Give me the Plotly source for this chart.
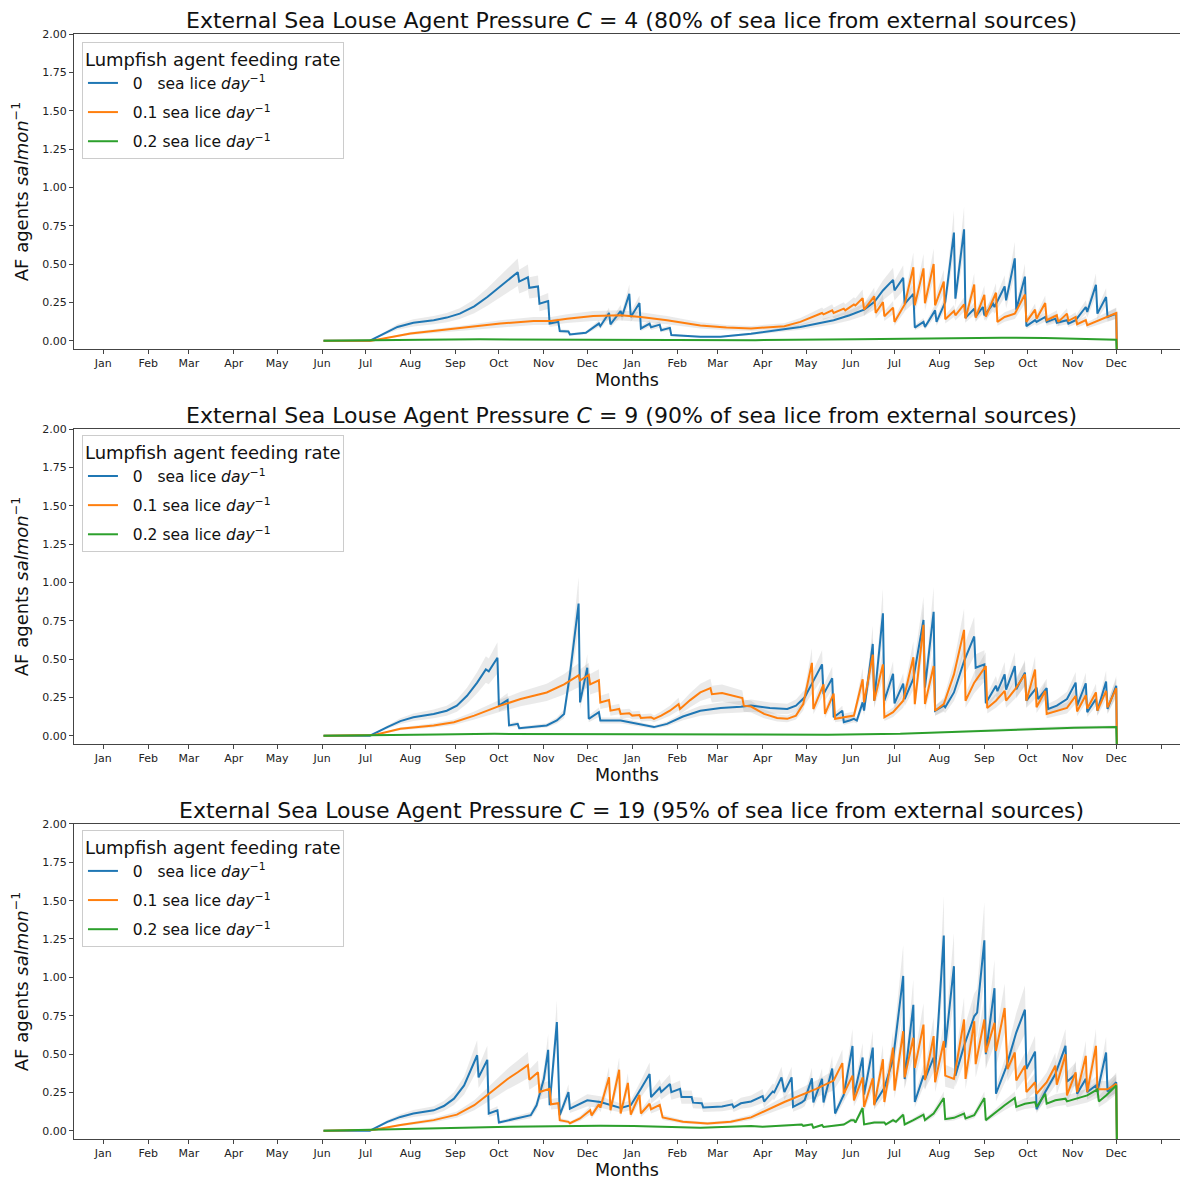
import plotly.graph_objects as go
from plotly.subplots import make_subplots

# Days are counted from 1 Jan of the first year (day 0); values in AF agents per salmon.

# ---- C = 4 ----
c4_rate0_day = [152, 184, 203, 214, 228, 237, 246, 256, 265, 274, 286, 287, 293, 294, 300, 301, 307, 308, 314, 315,
                321, 322, 333, 342, 343, 349, 350, 357, 358, 363, 364, 370, 371, 377, 378, 384, 385, 391, 392, 412,
                426, 447, 481, 504, 515, 525, 532, 538, 545, 546, 552, 553, 559, 560, 566, 567, 574, 575, 581, 587,
                588, 594, 595, 601, 602, 607, 608, 614, 615, 622, 623, 629, 630, 636, 637, 643, 644, 650, 651, 657,
                658, 665, 666, 671, 678, 679, 685, 686, 692, 693, 699, 699.5]
c4_rate0_val = [0, 0, 0.09, 0.117, 0.134, 0.151, 0.177, 0.224, 0.285, 0.354, 0.447, 0.386, 0.414, 0.345, 0.354, 0.241, 0.259, 0.112, 0.123, 0.063,
                0.06, 0.041, 0.052, 0.112, 0.095, 0.181, 0.107, 0.194, 0.16, 0.306, 0.155, 0.246, 0.08, 0.112, 0.088, 0.105, 0.069, 0.084, 0.037, 0.026,
                0.026, 0.045, 0.09, 0.134, 0.166, 0.203, 0.252, 0.328, 0.397, 0.328, 0.41, 0.241, 0.306, 0.086, 0.123, 0.09, 0.198, 0.123, 0.252, 0.705,
                0.274, 0.727, 0.149, 0.209, 0.157, 0.22, 0.166, 0.241, 0.22, 0.354, 0.263, 0.537, 0.203, 0.418, 0.095, 0.134, 0.123, 0.155, 0.123, 0.144,
                0.117, 0.134, 0.112, 0.134, 0.22, 0.188, 0.365, 0.177, 0.285, 0.155, 0.177, -0.1]

c4_rate1_day = [152, 185, 212, 246, 274, 297, 309, 320, 338, 357, 371, 389, 412, 430, 447, 470, 481, 496, 497, 503,
                504, 511, 512, 518, 519, 524, 525, 532, 533, 538, 539, 545, 546, 553, 559, 560, 566, 567, 573, 574,
                580, 581, 587, 588, 594, 595, 601, 602, 608, 609, 616, 617, 622, 629, 636, 637, 643, 644, 650, 651,
                658, 659, 665, 666, 671, 672, 678, 679, 686, 692, 699, 699.5]
c4_rate1_val = [0, 0, 0.047, 0.08, 0.112, 0.129, 0.129, 0.144, 0.162, 0.166, 0.155, 0.134, 0.10, 0.086, 0.08, 0.095, 0.123, 0.181, 0.172, 0.198,
                0.181, 0.209, 0.198, 0.237, 0.23, 0.278, 0.203, 0.289, 0.181, 0.252, 0.16, 0.216, 0.123, 0.237, 0.479, 0.231, 0.472, 0.244, 0.50, 0.231,
                0.386, 0.14, 0.194, 0.166, 0.237, 0.145, 0.367, 0.151, 0.30, 0.157, 0.313, 0.123, 0.155, 0.177, 0.302, 0.123, 0.203, 0.144, 0.246, 0.134,
                0.166, 0.123, 0.177, 0.13, 0.155, 0.108, 0.134, 0.101, 0.129, 0.155, 0.181, -0.1]

c4_rate2_day = [152, 185, 220, 260, 300, 340, 400, 450, 520, 580, 620, 650, 699, 699.5]
c4_rate2_val = [0, 0.001, 0.006, 0.009, 0.008, 0.004, 0.003, 0.004, 0.009, 0.018, 0.02, 0.018, 0.006, -0.1]

# ---- C = 9 ----
c9_rate0_day = [152, 184, 196, 205, 214, 228, 237, 244, 251, 258, 264, 266, 272, 273, 279, 280, 286, 287, 306, 313,
                318, 322, 328, 329, 334, 335, 342, 343, 357, 366, 380, 389, 400, 412, 426, 440, 447, 460, 472, 478,
                484, 496, 497, 503, 504, 510, 511, 515, 518, 520, 524, 525, 531, 532, 538, 539, 545, 546, 552, 553,
                559, 566, 567, 573, 574, 580, 581, 587, 594, 601, 602, 608, 609, 616, 617, 622, 623, 629, 630, 636,
                637, 644, 645, 651, 652, 658, 665, 671, 672, 678, 679, 685, 686, 692, 693, 699, 699.5]
c9_rate0_val = [0, 0, 0.056, 0.095, 0.12, 0.142, 0.163, 0.196, 0.26, 0.346, 0.432, 0.42, 0.508, 0.196, 0.232, 0.067, 0.077, 0.049, 0.067, 0.099,
                0.142, 0.40, 0.862, 0.217, 0.443, 0.11, 0.153, 0.099, 0.099, 0.082, 0.056, 0.077, 0.125, 0.163, 0.181, 0.189, 0.196, 0.181, 0.174, 0.196,
                0.25, 0.465, 0.271, 0.374, 0.12, 0.163, 0.088, 0.099, 0.11, 0.099, 0.217, 0.163, 0.598, 0.228, 0.798, 0.228, 0.404, 0.211, 0.34, 0.239,
                0.372, 0.755, 0.314, 0.808, 0.163, 0.196, 0.185, 0.282, 0.486, 0.647, 0.443, 0.465, 0.211, 0.325, 0.29, 0.40, 0.30, 0.454, 0.303, 0.411,
                0.228, 0.313, 0.239, 0.31, 0.174, 0.196, 0.239, 0.346, 0.196, 0.342, 0.153, 0.239, 0.163, 0.353, 0.174, 0.325, -0.1]

c9_rate1_day = [152, 187, 205, 228, 242, 256, 274, 288, 306, 318, 328, 329, 335, 336, 342, 343, 349, 350, 356, 357,
                363, 365, 370, 371, 378, 380, 385, 391, 397, 398, 405, 412, 419, 420, 427, 435, 441, 442, 447, 456,
                465, 472, 478, 483, 489, 490, 497, 498, 504, 505, 511, 518, 524, 525, 531, 532, 538, 539, 545, 552,
                559, 560, 566, 567, 573, 574, 580, 587, 594, 595, 601, 609, 610, 616, 622, 623, 629, 636, 637, 643,
                644, 650, 651, 658, 665, 671, 672, 678, 679, 685, 686, 692, 693, 699, 699.5]
c9_rate1_val = [0, 0.004, 0.045, 0.067, 0.088, 0.131, 0.196, 0.239, 0.282, 0.335, 0.394, 0.36, 0.396, 0.335, 0.361, 0.217, 0.232, 0.163, 0.174, 0.142,
                0.146, 0.131, 0.135, 0.116, 0.12, 0.11, 0.131, 0.163, 0.206, 0.174, 0.232, 0.282, 0.31, 0.271, 0.278, 0.26, 0.245, 0.196, 0.19, 0.142,
                0.116, 0.11, 0.131, 0.206, 0.475, 0.174, 0.335, 0.142, 0.275, 0.11, 0.12, 0.131, 0.368, 0.217, 0.529, 0.228, 0.465, 0.12, 0.153, 0.228,
                0.512, 0.206, 0.723, 0.206, 0.454, 0.163, 0.206, 0.40, 0.69, 0.228, 0.346, 0.454, 0.181, 0.228, 0.292, 0.228, 0.30, 0.40, 0.228, 0.432,
                0.185, 0.292, 0.142, 0.163, 0.181, 0.26, 0.158, 0.264, 0.177, 0.282, 0.163, 0.292, 0.185, 0.31, -0.1]

c9_rate2_day = [152, 190, 230, 270, 310, 350, 400, 450, 500, 550, 600, 640, 670, 699, 699.5]
c9_rate2_val = [0, 0.002, 0.008, 0.012, 0.011, 0.008, 0.004, 0.004, 0.006, 0.012, 0.03, 0.046, 0.052, 0.056, -0.1]

# ---- C = 19 ----
c19_rate0_day = [152, 184, 196, 205, 214, 228, 235, 242, 249, 253, 258, 259, 265, 266, 272, 273, 286, 295, 299, 304,
                 307, 308, 313, 315, 321, 322, 334, 343, 357, 364, 371, 377, 378, 384, 385, 391, 392, 398, 399, 406,
                 407, 413, 414, 427, 434, 435, 440, 447, 455, 456, 462, 463, 468, 470, 475, 476, 482, 484, 489, 490,
                 496, 497, 503, 505, 511, 517, 518, 524, 525, 531, 532, 539, 545, 552, 553, 559, 560, 566, 567, 573,
                 574, 580, 581, 587, 588, 594, 601, 603, 608, 609, 615, 616, 623, 629, 630, 636, 637, 643, 644, 650,
                 657, 664, 665, 671, 672, 678, 679, 685, 686, 692, 693, 699, 699.5]
c19_rate0_val = [0, 0, 0.058, 0.09, 0.112, 0.133, 0.161, 0.209, 0.295, 0.381, 0.492, 0.348, 0.462, 0.112, 0.133, 0.054, 0.08, 0.101, 0.166, 0.337,
                 0.527, 0.166, 0.708, 0.101, 0.252, 0.144, 0.198, 0.187, 0.148, 0.166, 0.273, 0.37, 0.219, 0.28, 0.252, 0.305, 0.252, 0.273, 0.219, 0.219,
                 0.183, 0.179, 0.152, 0.158, 0.172, 0.152, 0.179, 0.191, 0.226, 0.19, 0.256, 0.25, 0.348, 0.252, 0.348, 0.155, 0.184, 0.2, 0.342, 0.184,
                 0.339, 0.184, 0.406, 0.112, 0.235, 0.553, 0.23, 0.477, 0.235, 0.542, 0.174, 0.28, 0.466, 1.009, 0.337, 0.821, 0.187, 0.359, 0.337, 0.477,
                 0.38, 1.273, 0.542, 1.073, 0.359, 0.553, 0.746, 0.77, 1.241, 0.499, 0.929, 0.241, 0.413, 0.617, 0.64, 0.789, 0.402, 0.516, 0.14, 0.252,
                 0.37, 0.553, 0.32, 0.37, 0.241, 0.338, 0.252, 0.295, 0.252, 0.51, 0.256, 0.316, -0.1]

c19_rate1_day = [152, 187, 205, 228, 244, 256, 269, 279, 286, 293, 294, 300, 301, 308, 309, 314, 315, 321, 322, 329,
                 336, 337, 342, 343, 349, 350, 356, 357, 362, 364, 370, 371, 377, 378, 384, 386, 400, 417, 433, 447,
                 470, 492, 504, 510, 511, 517, 518, 524, 525, 531, 532, 538, 539, 545, 546, 552, 553, 559, 560, 566,
                 567, 573, 574, 580, 581, 587, 594, 595, 601, 602, 608, 609, 615, 616, 622, 624, 629, 630, 636, 637,
                 643, 644, 651, 657, 658, 664, 665, 671, 672, 678, 679, 685, 686, 693, 699, 699.5]
c19_rate1_val = [0, 0.006, 0.037, 0.069, 0.105, 0.166, 0.262, 0.337, 0.381, 0.428, 0.333, 0.381, 0.252, 0.273, 0.172, 0.179, 0.069, 0.058, 0.049, 0.08,
                 0.133, 0.10, 0.172, 0.15, 0.348, 0.133, 0.398, 0.112, 0.312, 0.105, 0.234, 0.112, 0.176, 0.14, 0.168, 0.087, 0.058, 0.047, 0.058, 0.087,
                 0.187, 0.273, 0.327, 0.441, 0.241, 0.359, 0.198, 0.348, 0.155, 0.342, 0.166, 0.466, 0.187, 0.542, 0.262, 0.649, 0.348, 0.606, 0.41, 0.692,
                 0.33, 0.617, 0.316, 0.585, 0.359, 0.338, 0.725, 0.338, 0.714, 0.434, 0.725, 0.51, 0.703, 0.52, 0.80, 0.402, 0.51, 0.327, 0.424, 0.252,
                 0.316, 0.241, 0.316, 0.424, 0.30, 0.499, 0.23, 0.38, 0.252, 0.488, 0.252, 0.553, 0.27, 0.27, 0.305, -0.1]

c19_rate2_day = [152, 228, 280, 343, 366, 412, 447, 455, 482, 483, 489, 490, 496, 497, 511, 516, 518, 519, 524, 525,
                 532, 539, 540, 545, 547, 552, 553, 559, 566, 567, 573, 580, 581, 587, 594, 595, 601, 608, 609, 622,
                 629, 630, 636, 643, 644, 650, 651, 657, 664, 665, 671, 679, 686, 687, 692, 699, 699.5]
c19_rate2_val = [0, 0.015, 0.026, 0.032, 0.03, 0.019, 0.03, 0.026, 0.04, 0.032, 0.042, 0.019, 0.037, 0.024, 0.04, 0.069, 0.069, 0.054, 0.148, 0.041,
                 0.054, 0.054, 0.041, 0.069, 0.058, 0.105, 0.041, 0.069, 0.105, 0.069, 0.112, 0.213, 0.075, 0.084, 0.112, 0.08, 0.101, 0.213, 0.069, 0.166,
                 0.213, 0.155, 0.176, 0.187, 0.155, 0.241, 0.176, 0.198, 0.209, 0.191, 0.209, 0.23, 0.269, 0.191, 0.23, 0.295, -0.1]

# panel titles: pressure C and share of lice from external sources
pressures = [4, 9, 19]
external_pct = [80, 90, 95]

rate_names = [
    "&nbsp;&nbsp;0&nbsp;&nbsp; sea lice <i>day</i><sup>\u22121</sup>",
    "&nbsp;&nbsp;0.1 sea lice <i>day</i><sup>\u22121</sup>",
    "&nbsp;&nbsp;0.2 sea lice <i>day</i><sup>\u22121</sup>",
]

month_labels = ["Jan", "Feb", "Mar", "Apr", "May", "Jun", "Jul", "Aug", "Sep", "Oct", "Nov", "Dec"] * 2 + [""]
month_lengths = [31, 28, 31, 30, 31, 30, 31, 31, 30, 31, 30, 31] * 2

panels = [
    [(c4_rate0_day, c4_rate0_val), (c4_rate1_day, c4_rate1_val), (c4_rate2_day, c4_rate2_val)],
    [(c9_rate0_day, c9_rate0_val), (c9_rate1_day, c9_rate1_val), (c9_rate2_day, c9_rate2_val)],
    [(c19_rate0_day, c19_rate0_val), (c19_rate1_day, c19_rate1_val), (c19_rate2_day, c19_rate2_val)],
]

COLORS = ["#1f77b4", "#ff7f0e", "#2ca02c"]
BAND_REL = 0.2  # relative half-width of the grey spread band
FONT = "DejaVu Sans"

# month-start tick positions
month_ticks = [0]
for n in month_lengths:
    month_ticks.append(month_ticks[-1] + n)

fig = make_subplots(rows=3, cols=1)

for row, series in enumerate(panels, start=1):
    legend_id = "legend" if row == 1 else f"legend{row}"

    # grey bands first
    for days, vals in series:
        assert len(days) == len(vals)
        upper = [v + BAND_REL * abs(v) for v in vals]
        lower = [v - BAND_REL * abs(v) for v in vals]
        fig.add_trace(go.Scatter(x=days, y=upper, mode="lines", line=dict(width=0),
                                 showlegend=False, hoverinfo="skip"), row=row, col=1)
        fig.add_trace(go.Scatter(x=days, y=lower, mode="lines", line=dict(width=0),
                                 fill="tonexty", fillcolor="rgba(150,150,150,0.2)",
                                 showlegend=False, hoverinfo="skip"), row=row, col=1)

    for k, ((days, vals), color, name) in enumerate(zip(series, COLORS, rate_names)):
        fig.add_trace(go.Scatter(
            x=days, y=vals, mode="lines", name=name,
            line=dict(color=color, width=2),
            legend=legend_id, legendgroup=f"p{row}r{k}",
        ), row=row, col=1)

domains = [[0.7149, 1.0], [0.3575, 0.6425], [0.0, 0.2851]]
legend_tops = [0.9928, 0.6371, 0.2797]

for row in range(1, 4):
    sfx = "" if row == 1 else str(row)
    fig.layout["xaxis" + sfx].update(
        range=[-20.2, 743.0], automargin=False,
        tickvals=month_ticks, ticktext=month_labels,
        ticks="outside", ticklen=4, tickcolor="#444",
        showline=True, linecolor="#444", linewidth=1, mirror=True,
        showgrid=False, zeroline=False,
        tickfont=dict(family=FONT, size=11, color="#222"),
        title=dict(text="Months", font=dict(family=FONT, size=17.5, color="#111"), standoff=3),
    )
    fig.layout["yaxis" + sfx].update(
        domain=domains[row - 1], automargin=False,
        range=[-0.054, 2.0],
        tickvals=[0, 0.25, 0.5, 0.75, 1.0, 1.25, 1.5, 1.75, 2.0], tickformat=".2f",
        ticks="outside", ticklen=4, tickcolor="#444",
        showline=True, linecolor="#444", linewidth=1,
        showgrid=False, zeroline=False,
        tickfont=dict(family=FONT, size=11, color="#222"),
        title=dict(text="AF agents <i>salmon</i><sup>\u22121</sup>",
                   font=dict(family=FONT, size=18, color="#111"), standoff=9),
    )
    fig.add_annotation(
        text=f"External Sea Louse Agent Pressure <i>C</i> = {pressures[row - 1]} "
             f"({external_pct[row - 1]}% of sea lice from external sources)",
        xref="paper", yref="paper", x=0.504, y=domains[row - 1][1],
        xanchor="center", yanchor="bottom", yshift=-1, showarrow=False,
        font=dict(family=FONT, size=22, color="#111"),
    )
    legend_cfg = dict(
        x=0.0072, y=legend_tops[row - 1], xanchor="left", yanchor="top",
        traceorder="grouped", tracegroupgap=6, itemwidth=30,
        bgcolor="rgba(255,255,255,0.8)", bordercolor="#cccccc", borderwidth=1,
        font=dict(family=FONT, size=15.5, color="#111"),
        title=dict(text="Lumpfish agent feeding rate", font=dict(family=FONT, size=18, color="#111")),
    )
    fig.layout["legend" + sfx] = legend_cfg

# the page body keeps an 8 px margin, so the figure is sized to fit inside it
fig.update_layout(
    width=1172, height=1175,
    margin=dict(l=66, r=0, t=26, b=44, autoexpand=False),
    paper_bgcolor="white", plot_bgcolor="white",
    font=dict(family=FONT),
)

fig.write_html("out.html")
